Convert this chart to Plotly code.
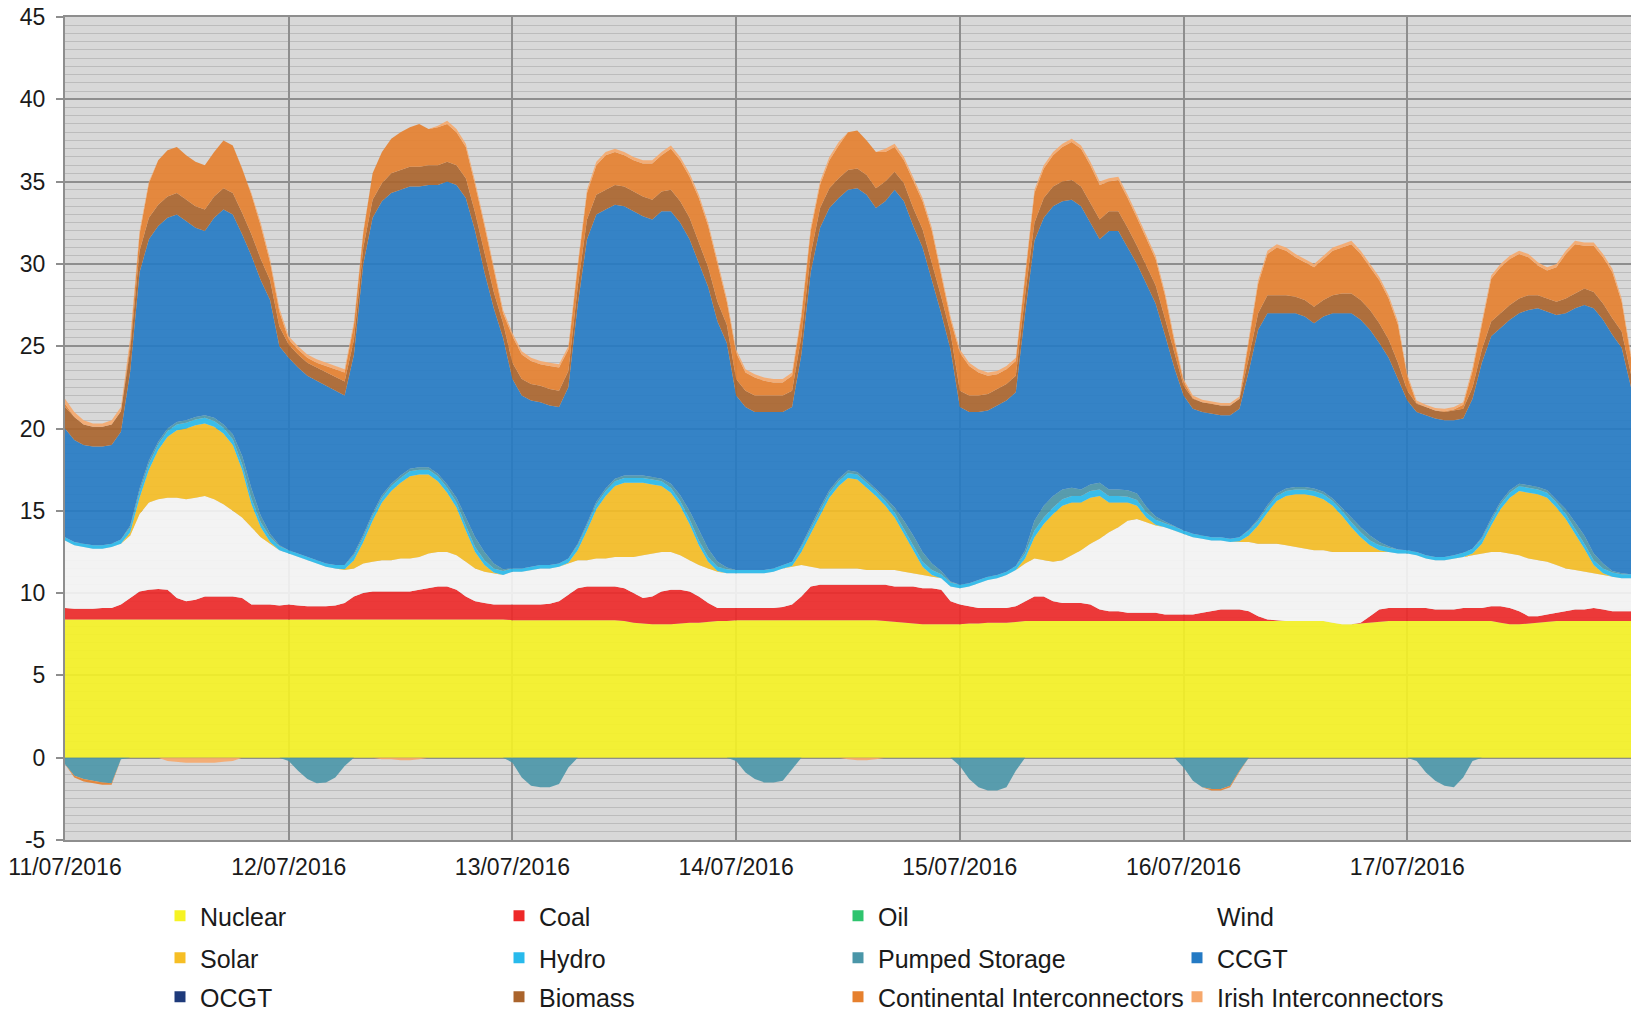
import numpy as np
import pandas as pd
import plotly.graph_objects as go

# ---------------- axes ----------------
hours = pd.date_range("2016-07-11 00:00", "2016-07-18 00:00", freq="h")  # hourly readings

day_ticks = ["2016-07-11", "2016-07-12", "2016-07-13", "2016-07-14",
             "2016-07-15", "2016-07-16", "2016-07-17"]
day_labels = ["11/07/2016", "12/07/2016", "13/07/2016", "14/07/2016",
              "15/07/2016", "16/07/2016", "17/07/2016"]
y_ticks = [-5, 0, 5, 10, 15, 20, 25, 30, 35, 40, 45]
y_labels = ["-5", "0", "5", "10", "15", "20", "25", "30", "35", "40", "45"]

# ---------------- generation by fuel, GW (24 hourly values per day + closing value) ----------------
nuclear = [
    8.4, 8.4, 8.4, 8.4, 8.4, 8.4, 8.4, 8.4, 8.4, 8.4, 8.4, 8.4, 8.4, 8.4, 8.4, 8.4, 8.4, 8.4, 8.4, 8.4, 8.4, 8.4, 8.4, 8.4,
    8.4, 8.4, 8.4, 8.4, 8.4, 8.4, 8.4, 8.4, 8.4, 8.4, 8.4, 8.4, 8.4, 8.4, 8.4, 8.4, 8.4, 8.4, 8.4, 8.4, 8.4, 8.4, 8.4, 8.4,
    8.35, 8.35, 8.35, 8.35, 8.35, 8.35, 8.35, 8.35, 8.35, 8.35, 8.35, 8.35, 8.3, 8.2, 8.15, 8.1, 8.1, 8.1, 8.15, 8.2, 8.2, 8.25, 8.3, 8.3,
    8.35, 8.35, 8.35, 8.35, 8.35, 8.35, 8.35, 8.35, 8.35, 8.35, 8.35, 8.35, 8.35, 8.35, 8.35, 8.35, 8.3, 8.25, 8.2, 8.15, 8.1, 8.1, 8.1, 8.1,
    8.1, 8.15, 8.15, 8.2, 8.2, 8.2, 8.25, 8.3, 8.3, 8.3, 8.3, 8.3, 8.3, 8.3, 8.3, 8.3, 8.3, 8.3, 8.3, 8.3, 8.3, 8.3, 8.3, 8.3,
    8.3, 8.3, 8.3, 8.3, 8.3, 8.3, 8.3, 8.3, 8.3, 8.3, 8.3, 8.3, 8.3, 8.3, 8.3, 8.3, 8.2, 8.1, 8.1, 8.15, 8.2, 8.25, 8.3, 8.3,
    8.3, 8.3, 8.3, 8.3, 8.3, 8.3, 8.3, 8.3, 8.3, 8.3, 8.2, 8.1, 8.1, 8.15, 8.2, 8.25, 8.3, 8.3, 8.3, 8.3, 8.3, 8.3, 8.3, 8.3,
    8.3,
]
coal = [
    0.7, 0.65, 0.65, 0.65, 0.7, 0.7, 0.9, 1.3, 1.7, 1.8, 1.85, 1.8, 1.3, 1.1, 1.2, 1.4, 1.4, 1.4, 1.4, 1.3, 0.9, 0.9, 0.9, 0.85,
    0.9, 0.85, 0.8, 0.8, 0.8, 0.85, 1.0, 1.4, 1.6, 1.7, 1.7, 1.7, 1.7, 1.7, 1.8, 1.9, 2.0, 2.0, 1.8, 1.4, 1.1, 1.0, 0.9, 0.9,
    0.95, 0.95, 0.95, 0.95, 1.0, 1.15, 1.55, 1.95, 2.05, 2.05, 2.05, 2.05, 2.0, 1.8, 1.55, 1.7, 2.0, 2.1, 2.05, 1.9, 1.6, 1.15, 0.8, 0.8,
    0.75, 0.75, 0.75, 0.75, 0.75, 0.8, 0.95, 1.45, 2.05, 2.15, 2.15, 2.15, 2.15, 2.15, 2.15, 2.15, 2.2, 2.15, 2.2, 2.25, 2.2, 2.2, 2.1, 1.4,
    1.2, 1.05, 0.95, 0.9, 0.9, 0.9, 0.95, 1.2, 1.5, 1.5, 1.2, 1.1, 1.1, 1.1, 1.0, 0.7, 0.6, 0.6, 0.5, 0.5, 0.5, 0.5, 0.4, 0.4,
    0.4, 0.4, 0.5, 0.6, 0.7, 0.7, 0.7, 0.6, 0.3, 0.1, 0.05, 0.0, 0.0, 0.0, 0.0, 0.0, 0.0, 0.0, 0.0, 0.05, 0.4, 0.75, 0.8, 0.8,
    0.8, 0.8, 0.8, 0.7, 0.7, 0.7, 0.8, 0.8, 0.8, 0.9, 1.0, 1.0, 0.8, 0.45, 0.4, 0.45, 0.5, 0.6, 0.7, 0.7, 0.8, 0.7, 0.6, 0.6,
    0.6,
]
oil = [0.0] * len(hours)   # reads as zero for the whole week
wind = [
    4.1, 3.85, 3.75, 3.65, 3.6, 3.7, 3.7, 3.8, 4.7, 5.3, 5.45, 5.6, 6.1, 6.2, 6.2, 6.1, 5.9, 5.6, 5.2, 4.9, 4.7, 4.1, 3.7, 3.35,
    3.1, 2.95, 2.8, 2.6, 2.4, 2.25, 2.0, 1.7, 1.8, 1.8, 1.9, 1.9, 2.0, 2.0, 2.0, 2.1, 2.1, 2.1, 2.1, 2.1, 2.0, 1.9, 1.9, 1.8,
    2.0, 2.0, 2.1, 2.2, 2.15, 2.1, 1.9, 1.7, 1.6, 1.7, 1.7, 1.8, 1.9, 2.2, 2.6, 2.6, 2.4, 2.3, 2.1, 1.9, 1.9, 2.1, 2.2, 2.1,
    2.1, 2.1, 2.1, 2.1, 2.2, 2.35, 2.3, 1.9, 1.2, 1.0, 1.0, 1.0, 1.0, 1.0, 0.9, 0.9, 0.9, 1.0, 0.9, 0.8, 0.8, 0.7, 0.7, 0.9,
    1.0, 1.2, 1.5, 1.7, 1.8, 2.0, 2.2, 2.3, 2.3, 2.2, 2.4, 2.6, 2.9, 3.2, 3.7, 4.3, 4.8, 5.1, 5.6, 5.7, 5.5, 5.3, 5.3, 5.1,
    4.9, 4.7, 4.5, 4.3, 4.2, 4.1, 4.1, 4.2, 4.4, 4.6, 4.65, 4.6, 4.5, 4.4, 4.3, 4.3, 4.3, 4.4, 4.4, 4.3, 3.9, 3.5, 3.4, 3.3,
    3.3, 3.2, 3.0, 3.0, 3.0, 3.1, 3.1, 3.2, 3.3, 3.3, 3.3, 3.3, 3.4, 3.5, 3.4, 3.2, 2.9, 2.6, 2.4, 2.3, 2.1, 2.1, 2.1, 2.0,
    2.0,
]
solar = [
    0, 0, 0, 0, 0, 0, 0, 0.2, 1.0, 2.0, 3.0, 3.7, 4.1, 4.3, 4.4, 4.4, 4.4, 4.3, 4.0, 2.9, 1.4, 0.6, 0.1, 0,
    0, 0, 0, 0, 0, 0, 0.05, 0.5, 1.3, 2.5, 3.5, 4.2, 4.6, 5.0, 5.0, 4.8, 4.3, 3.6, 2.9, 1.9, 1.0, 0.4, 0.05, 0,
    0, 0, 0, 0, 0, 0, 0.05, 0.6, 1.8, 3.0, 3.8, 4.3, 4.5, 4.5, 4.4, 4.2, 4.0, 3.6, 3.0, 2.2, 1.2, 0.4, 0.05, 0,
    0, 0, 0, 0, 0, 0, 0.05, 0.8, 2.0, 3.2, 4.3, 5.0, 5.5, 5.4, 5.0, 4.5, 3.9, 3.2, 2.3, 1.4, 0.5, 0.1, 0, 0,
    0, 0, 0, 0, 0, 0, 0, 0.3, 1.3, 2.2, 2.9, 3.3, 3.2, 2.9, 2.8, 2.6, 1.8, 1.5, 1.1, 0.8, 0.3, 0.05, 0, 0,
    0, 0, 0, 0, 0, 0, 0.05, 0.4, 1.1, 1.9, 2.6, 3.0, 3.2, 3.3, 3.3, 3.1, 2.8, 2.2, 1.5, 0.9, 0.4, 0.1, 0, 0,
    0, 0, 0, 0, 0, 0, 0, 0.1, 0.6, 1.6, 2.6, 3.4, 3.9, 4.0, 4.0, 3.9, 3.5, 3.0, 2.2, 1.4, 0.5, 0.1, 0, 0,
    0,
]
hydro = [
    0.2, 0.2, 0.2, 0.2, 0.2, 0.2, 0.25, 0.3, 0.35, 0.35, 0.35, 0.35, 0.35, 0.35, 0.35, 0.35, 0.35, 0.35, 0.35, 0.35, 0.35, 0.3, 0.3, 0.25,
    0.2, 0.2, 0.2, 0.2, 0.2, 0.2, 0.25, 0.3, 0.3, 0.3, 0.3, 0.3, 0.3, 0.3, 0.3, 0.3, 0.3, 0.3, 0.3, 0.3, 0.3, 0.3, 0.25, 0.25,
    0.2, 0.2, 0.2, 0.2, 0.2, 0.2, 0.25, 0.3, 0.3, 0.3, 0.3, 0.3, 0.3, 0.3, 0.3, 0.3, 0.3, 0.3, 0.3, 0.3, 0.3, 0.3, 0.25, 0.25,
    0.2, 0.2, 0.2, 0.2, 0.2, 0.2, 0.25, 0.3, 0.3, 0.3, 0.3, 0.3, 0.3, 0.3, 0.3, 0.3, 0.3, 0.3, 0.3, 0.3, 0.3, 0.3, 0.25, 0.25,
    0.2, 0.2, 0.2, 0.2, 0.2, 0.2, 0.25, 0.3, 0.4, 0.4, 0.4, 0.4, 0.4, 0.4, 0.4, 0.4, 0.4, 0.4, 0.35, 0.35, 0.3, 0.3, 0.25, 0.25,
    0.2, 0.2, 0.2, 0.2, 0.2, 0.2, 0.25, 0.3, 0.3, 0.3, 0.3, 0.3, 0.3, 0.3, 0.3, 0.3, 0.3, 0.3, 0.3, 0.3, 0.3, 0.3, 0.25, 0.25,
    0.2, 0.2, 0.2, 0.2, 0.2, 0.2, 0.25, 0.3, 0.3, 0.3, 0.3, 0.3, 0.3, 0.3, 0.3, 0.3, 0.3, 0.3, 0.3, 0.3, 0.3, 0.3, 0.25, 0.25,
    0.25,
]
pumped_storage = [   # negative = pumping
    -0.4, -1.1, -1.3, -1.4, -1.5, -1.55, -0.1, 0.1, 0.2, 0.2, 0.15, 0.15, 0.15, 0.15, 0.15, 0.15, 0.2, 0.2, 0.3, 0.5, 0.6, 0.4, 0.2, 0.05,
    -0.2, -0.8, -1.3, -1.55, -1.5, -1.2, -0.5, 0.1, 0.15, 0.15, 0.15, 0.15, 0.15, 0.15, 0.15, 0.15, 0.15, 0.2, 0.3, 0.5, 0.6, 0.5, 0.3, 0.1,
    -0.3, -1.2, -1.7, -1.8, -1.8, -1.6, -0.6, 0.1, 0.15, 0.15, 0.15, 0.15, 0.15, 0.15, 0.15, 0.15, 0.15, 0.25, 0.35, 0.5, 0.6, 0.5, 0.3, 0.1,
    -0.2, -0.9, -1.3, -1.5, -1.5, -1.4, -0.7, 0.1, 0.2, 0.2, 0.15, 0.15, 0.15, 0.15, 0.15, 0.15, 0.2, 0.3, 0.5, 0.6, 0.6, 0.4, 0.2, 0.05,
    -0.5, -1.3, -1.8, -2.0, -2.0, -1.8, -0.8, 0.2, 0.6, 0.7, 0.7, 0.6, 0.5, 0.4, 0.4, 0.4, 0.4, 0.4, 0.4, 0.4, 0.35, 0.2, 0.1, 0.0,
    -0.6, -1.4, -1.8, -1.9, -1.9, -1.7, -0.8, 0.05, 0.1, 0.15, 0.15, 0.15, 0.15, 0.15, 0.15, 0.15, 0.15, 0.2, 0.3, 0.3, 0.3, 0.2, 0.1, 0.0,
    0.0, -0.2, -0.9, -1.4, -1.7, -1.8, -1.2, -0.2, 0.1, 0.15, 0.15, 0.15, 0.15, 0.15, 0.15, 0.15, 0.2, 0.3, 0.4, 0.5, 0.4, 0.3, 0.1, 0.05,
    0.0,
]
ccgt = [
    6.6, 6.2, 6.0, 6.0, 6.0, 6.0, 6.55, 9.4, 13.15, 13.45, 13.1, 12.8, 12.6, 12.1, 11.5, 11.2, 12.15, 13.05, 13.35, 13.45, 14.15, 14.3, 14.2, 12.1,
    11.7, 11.3, 11.0, 10.9, 10.8, 10.6, 10.3, 12.1, 16.45, 17.95, 17.85, 17.65, 17.35, 17.15, 17.05, 17.15, 17.55, 18.4, 19.0, 19.4, 18.6, 17.0, 15.5, 14.05,
    11.5, 10.5, 10.1, 9.9, 9.7, 9.5, 10.4, 14.5, 17.25, 17.45, 16.95, 16.65, 16.35, 16.05, 15.75, 15.65, 16.25, 16.55, 16.55, 16.5, 16.2, 15.9, 14.6, 13.65,
    10.6, 9.9, 9.6, 9.6, 9.5, 9.3, 9.4, 11.6, 15.4, 17.0, 17.15, 17.05, 17.05, 17.25, 17.35, 17.05, 18.0, 19.3, 19.4, 18.8, 18.5, 17.2, 15.65, 14.1,
    10.8, 10.4, 10.2, 10.1, 10.3, 10.4, 10.55, 14.4, 17.0, 17.5, 17.6, 17.5, 17.5, 17.2, 15.9, 14.8, 15.7, 15.7, 14.75, 13.95, 13.55, 12.95, 11.35, 9.65,
    8.2, 7.6, 7.5, 7.5, 7.4, 7.5, 7.8, 9.65, 11.5, 11.65, 10.95, 10.65, 10.55, 10.35, 10.05, 10.65, 11.25, 11.8, 12.4, 12.6, 12.5, 12.1, 11.45, 10.35,
    9.1, 8.5, 8.5, 8.4, 8.3, 8.2, 8.15, 9.1, 10.6, 11.05, 10.55, 10.35, 10.35, 10.65, 10.85, 10.85, 11.2, 11.9, 13.0, 14.0, 14.9, 14.8, 14.35, 13.7,
    11.35,
]
ocgt = [0.0] * len(hours)   # reads as zero for the whole week
biomass = [
    1.3, 1.4, 1.25, 1.2, 1.2, 1.25, 1.25, 1.3, 1.3, 1.3, 1.3, 1.3, 1.3, 1.3, 1.3, 1.3, 1.3, 1.3, 1.3, 1.3, 1.3, 1.3, 1.2, 1.2,
    0.8, 0.8, 0.8, 0.8, 0.8, 0.8, 0.85, 0.9, 1.0, 1.1, 1.1, 1.2, 1.2, 1.2, 1.2, 1.2, 1.2, 1.2, 1.2, 1.2, 1.1, 1.1, 1.0, 0.9,
    1.0, 1.0, 1.0, 1.0, 1.0, 1.0, 1.0, 1.1, 1.2, 1.2, 1.2, 1.2, 1.2, 1.2, 1.2, 1.2, 1.2, 1.3, 1.3, 1.3, 1.3, 1.2, 1.2, 1.1,
    1.0, 1.0, 1.0, 1.0, 1.0, 1.0, 1.0, 1.1, 1.1, 1.2, 1.2, 1.2, 1.2, 1.2, 1.2, 1.2, 1.2, 1.1, 1.1, 1.1, 1.1, 1.1, 1.0, 1.0,
    1.0, 1.0, 1.0, 1.0, 1.0, 1.0, 1.0, 1.1, 1.1, 1.2, 1.2, 1.2, 1.2, 1.2, 1.2, 1.2, 1.2, 1.2, 1.2, 1.1, 1.1, 1.1, 1.0, 1.0,
    0.6, 0.6, 0.6, 0.6, 0.6, 0.6, 0.6, 0.8, 1.0, 1.1, 1.1, 1.1, 1.0, 1.0, 1.0, 1.0, 1.1, 1.2, 1.2, 1.2, 1.2, 1.2, 1.1, 1.0,
    0.6, 0.5, 0.5, 0.5, 0.5, 0.6, 0.6, 0.7, 0.8, 0.9, 0.9, 0.9, 0.9, 0.9, 0.8, 0.8, 0.8, 0.9, 0.9, 1.0, 1.0, 1.0, 1.0, 1.0,
    0.8,
]
continental_ic = [   # negative = export
    0.2, -0.1, -0.15, -0.15, -0.15, -0.1, 0.0, 0.4, 1.0, 2.1, 2.7, 2.8, 2.8, 2.7, 2.7, 2.7, 2.7, 2.9, 2.9, 2.7, 2.4, 2.0, 1.1, 0.9,
    0.3, 0.3, 0.3, 0.3, 0.4, 0.5, 0.55, 0.9, 0.9, 1.6, 1.9, 2.1, 2.3, 2.4, 2.6, 2.2, 2.3, 2.3, 2.0, 1.9, 1.7, 1.7, 1.3, 0.6,
    1.6, 1.5, 1.4, 1.3, 1.4, 1.4, 1.3, 1.2, 1.6, 1.8, 2.1, 2.0, 1.9, 1.9, 2.0, 2.2, 2.2, 2.5, 2.5, 2.5, 2.7, 2.5, 2.3, 1.4,
    1.6, 1.1, 1.1, 0.9, 0.8, 0.8, 0.9, 1.2, 1.4, 1.4, 1.7, 2.0, 2.3, 2.3, 2.1, 2.2, 1.8, 1.5, 1.4, 1.7, 1.7, 1.9, 1.4, 0.8,
    2.3, 1.8, 1.4, 1.1, 0.9, 0.9, 0.9, 1.2, 1.8, 1.8, 1.9, 2.1, 2.3, 2.3, 2.3, 2.1, 1.8, 1.9, 1.8, 1.7, 1.7, 1.6, 1.4, 0.6,
    0.25, 0.05, 0.0, -0.1, -0.1, -0.1, -0.05, 1.0, 1.8, 2.5, 2.9, 2.7, 2.4, 2.3, 2.4, 2.5, 2.7, 2.8, 3.0, 2.8, 2.6, 2.6, 2.5, 2.3,
    0.85, 0.05, 0.0, 0.0, 0.05, 0.05, 0.25, 1.0, 1.5, 2.6, 2.8, 2.8, 2.7, 2.3, 1.8, 1.7, 2.1, 2.7, 3.0, 2.6, 2.8, 2.8, 2.8, 1.8,
    1.0,
]
irish_ic = [   # negative = export
    0.3, 0.3, 0.25, 0.2, 0.2, 0.25, 0.25, 0.3, 0.2, 0.1, 0.0, -0.2, -0.25, -0.3, -0.3, -0.3, -0.3, -0.25, -0.2, 0.0, 0.1, 0.2, 0.2, 0.2,
    0.2, 0.2, 0.2, 0.2, 0.2, 0.2, 0.2, 0.2, 0.1, 0.0, -0.1, -0.1, -0.15, -0.15, -0.1, 0.0, 0.1, 0.2, 0.2, 0.2, 0.2, 0.2, 0.2, 0.2,
    0.2, 0.2, 0.2, 0.2, 0.2, 0.2, 0.2, 0.2, 0.2, 0.2, 0.2, 0.2, 0.2, 0.2, 0.2, 0.2, 0.2, 0.2, 0.2, 0.2, 0.2, 0.2, 0.2, 0.2,
    0.2, 0.2, 0.2, 0.2, 0.2, 0.2, 0.2, 0.2, 0.2, 0.2, 0.2, 0.2, -0.1, -0.15, -0.15, -0.1, 0.2, 0.2, 0.2, 0.2, 0.2, 0.2, 0.2, 0.2,
    0.2, 0.2, 0.2, 0.2, 0.2, 0.2, 0.2, 0.2, 0.2, 0.2, 0.2, 0.2, 0.2, 0.2, 0.2, 0.2, 0.2, 0.2, 0.2, 0.2, 0.2, 0.2, 0.2, 0.2,
    0.15, 0.15, 0.15, 0.15, 0.15, 0.15, 0.15, 0.2, 0.2, 0.2, 0.2, 0.2, 0.2, 0.2, 0.2, 0.2, 0.2, 0.2, 0.2, 0.2, 0.2, 0.2, 0.2, 0.2,
    0.15, 0.15, 0.15, 0.15, 0.15, 0.15, 0.15, 0.2, 0.2, 0.2, 0.2, 0.2, 0.2, 0.2, 0.2, 0.2, 0.2, 0.2, 0.2, 0.2, 0.2, 0.2, 0.2, 0.2,
    0.2,
]

series = {
    "Nuclear": nuclear, "Coal": coal, "Oil": oil, "Wind": wind, "Solar": solar,
    "Hydro": hydro, "Pumped Storage": pumped_storage, "CCGT": ccgt, "OCGT": ocgt,
    "Biomass": biomass, "Continental Interconnectors": continental_ic,
    "Irish Interconnectors": irish_ic,
}
for name, vals in series.items():
    assert len(vals) == len(hours), (name, len(vals))

colors = {
    "Nuclear": (246, 243, 36), "Coal": (238, 40, 40), "Oil": (46, 196, 110),
    "Wind": (246, 246, 246), "Solar": (246, 190, 36), "Hydro": (40, 186, 236),
    "Pumped Storage": (74, 150, 168), "CCGT": (36, 122, 196), "OCGT": (30, 58, 122),
    "Biomass": (170, 100, 44), "Continental Interconnectors": (230, 128, 46),
    "Irish Interconnectors": (246, 168, 108),
}


def fill_rgba(name, a=0.9):
    r, g, b = colors[name]
    return f"rgba({r},{g},{b},{a})"


def solid(name):
    r, g, b = colors[name]
    return f"rgb({r},{g},{b})"


fig = go.Figure()


def add_area(name, vals, group):
    fig.add_trace(go.Scatter(
        x=hours, y=vals, mode="lines", stackgroup=group,
        line=dict(width=0, color=solid(name)), fillcolor=fill_rgba(name),
        showlegend=False, hoverinfo="skip", name=name,
    ))


# positive stack
for name in ["Nuclear", "Coal", "Oil", "Wind", "Solar", "Hydro"]:
    add_area(name, series[name], "pos")
add_area("Pumped Storage", np.clip(pumped_storage, 0, None), "pos")
for name in ["CCGT", "OCGT", "Biomass"]:
    add_area(name, series[name], "pos")
add_area("Continental Interconnectors", np.clip(continental_ic, 0, None), "pos")
add_area("Irish Interconnectors", np.clip(irish_ic, 0, None), "pos")
# negative stack
add_area("Pumped Storage", np.clip(pumped_storage, None, 0), "neg")
add_area("Continental Interconnectors", np.clip(continental_ic, None, 0), "neg")
add_area("Irish Interconnectors", np.clip(irish_ic, None, 0), "neg")

# legend (three rows of four)
legend_rows = [
    ["Nuclear", "Coal", "Oil", "Wind"],
    ["Solar", "Hydro", "Pumped Storage", "CCGT"],
    ["OCGT", "Biomass", "Continental Interconnectors", "Irish Interconnectors"],
]
legend_ids = ["legend", "legend2", "legend3"]
for lid, row in zip(legend_ids, legend_rows):
    for name in row:
        mcol = "rgba(255,255,255,0)" if name == "Wind" else solid(name)
        fig.add_trace(go.Scatter(
            x=[None], y=[None], mode="markers", name=name, legend=lid,
            marker=dict(symbol="square", size=11, color=mcol),
            hoverinfo="skip",
        ))

FONT = "Liberation Sans, Arial, sans-serif"
W, H = 1631, 1016
ML, MR, MT, MB = 65, 0, 17, 176
plot_h = H - MT - MB
row_px = [916, 958, 997]


def legend_cfg(py):
    return dict(
        orientation="h", entrywidth=294, entrywidthmode="pixels",
        traceorder="normal",
        x=(160 - ML) / (W - ML - MR), xanchor="left",
        y=-(py - (H - MB)) / plot_h, yanchor="middle",
        font=dict(family=FONT, size=25, color="#1a1a1a"),
        bgcolor="rgba(0,0,0,0)", itemclick=False, itemdoubleclick=False,
        itemsizing="trace",
    )


fig.update_layout(
    width=W, height=H,
    margin=dict(l=ML, r=MR, t=MT, b=MB, pad=0, autoexpand=False),
    paper_bgcolor="white", plot_bgcolor="#d8d8d8",
    font=dict(family=FONT, color="#1a1a1a"),
    showlegend=True,
    legend=legend_cfg(row_px[0]),
    legend2=legend_cfg(row_px[1]),
    legend3=legend_cfg(row_px[2]),
    hovermode=False,
)
fig.update_xaxes(
    type="date", range=["2016-07-11 00:00", "2016-07-18 00:00"],
    tickmode="array", tickvals=day_ticks, ticktext=day_labels,
    showgrid=True, gridcolor="#8e8e8e", gridwidth=2,
    showline=True, linecolor="#8e8e8e", linewidth=2, mirror=True,
    ticks="", ticklabelstandoff=5,
    tickfont=dict(family=FONT, size=23, color="#1a1a1a"),
    zeroline=False,
)
fig.update_yaxes(
    range=[-5, 45], tickmode="array", tickvals=y_ticks, ticktext=y_labels,
    showgrid=True, gridcolor="#8e8e8e", gridwidth=2,
    minor=dict(tickmode="linear", tick0=0, dtick=0.5, showgrid=True,
               gridcolor="#bcbcbc", gridwidth=1.2, ticks=""),
    showline=True, linecolor="#8e8e8e", linewidth=2, mirror=True,
    ticks="outside", ticklen=7, tickcolor="#8e8e8e", tickwidth=2,
    ticklabelstandoff=6,
    tickfont=dict(family=FONT, size=23, color="#1a1a1a"),
    zeroline=False,
)

fig.write_html(
    "out.html",
    config={"displayModeBar": False},
    post_script="document.body.style.margin='0px';document.body.style.overflow='hidden';",
)
